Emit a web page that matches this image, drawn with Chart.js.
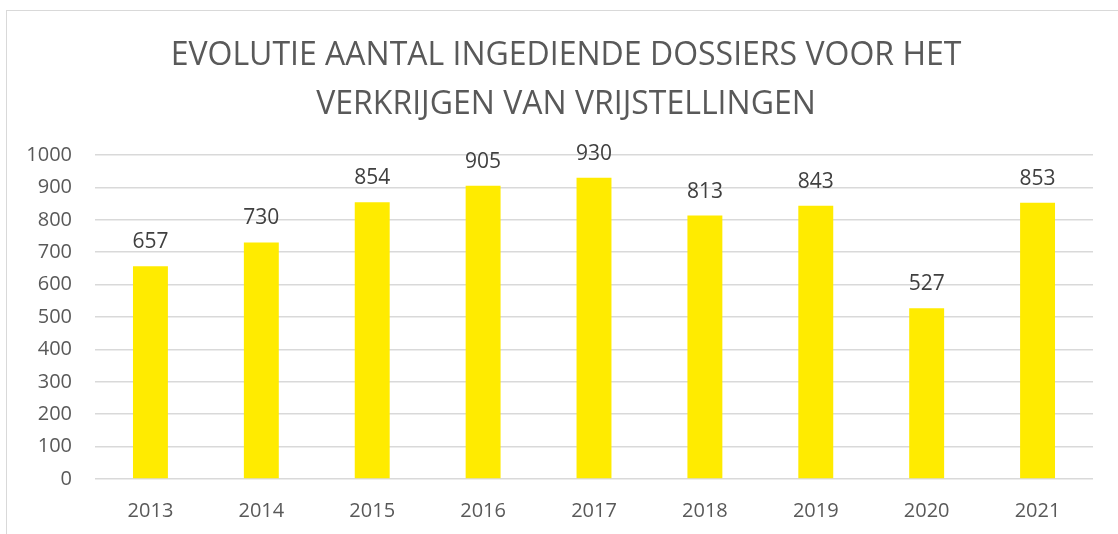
<!DOCTYPE html>
<html>
<head>
<meta charset="utf-8">
<script src="https://cdn.jsdelivr.net/npm/chart.js@4.4.1/dist/chart.umd.min.js"></script>
<style>
    html, body { margin: 0; padding: 0; background: #ffffff; overflow: hidden; }
    #frame {
        position: absolute;
        left: 6px;
        top: 10px;
        width: 1118px;
        height: 540px;
        border: 1px solid #d9d9d9;
    }
</style>
</head>
<body>
<div id="frame"><canvas id="dossierChart" width="1118" height="540"></canvas></div>
<script>
const titleLines = ['EVOLUTIE AANTAL INGEDIENDE DOSSIERS VOOR HET', 'VERKRIJGEN VAN VRIJSTELLINGEN'];
const years = ['2013', '2014', '2015', '2016', '2017', '2018', '2019', '2020', '2021'];
const dossiers = [657, 730, 854, 905, 930, 813, 843, 527, 853];
const yTicks = [0, 100, 200, 300, 400, 500, 600, 700, 800, 900, 1000];

const textGrey = '#595959';

const titlePlugin = {
    id: 'twoLineTitle',
    afterDraw(chart) {
        const ctx = chart.ctx;
        ctx.save();
        ctx.font = '32px "Open Sans"';
        ctx.fillStyle = textGrey;
        ctx.textAlign = 'center';
        ctx.textBaseline = 'alphabetic';
        const centerX = chart.width / 2;
        ctx.fillText(titleLines[0], centerX, 54);
        ctx.fillText(titleLines[1], centerX, 103);
        ctx.restore();
    }
};

const valueLabelPlugin = {
    id: 'valueLabels',
    afterDatasetsDraw(chart) {
        const ctx = chart.ctx;
        const meta = chart.getDatasetMeta(0);
        ctx.save();
        ctx.font = '21px "Open Sans"';
        ctx.fillStyle = '#404040';
        ctx.textAlign = 'center';
        ctx.textBaseline = 'alphabetic';
        meta.data.forEach((bar, i) => {
            ctx.fillText(String(dossiers[i]), bar.x, bar.y - 18);
        });
        ctx.restore();
    }
};

new Chart(document.getElementById('dossierChart'), {
    type: 'bar',
    data: {
        labels: years,
        datasets: [{
            data: dossiers,
            backgroundColor: '#ffeb00',
            categoryPercentage: 1,
            barPercentage: 0.315
        }]
    },
    options: {
        responsive: false,
        animation: false,
        layout: {
            padding: { top: 144, right: 32, left: 0, bottom: 0 }
        },
        plugins: {
            legend: { display: false },
            title: { display: false },
            tooltip: { enabled: false }
        },
        scales: {
            x: {
                grid: { display: false },
                border: { display: false },
                ticks: {
                    color: textGrey,
                    font: { family: 'Open Sans', size: 20 },
                    padding: 12,
                    maxRotation: 0
                },
                afterFit(scale) {
                    scale.height = 72;
                }
            },
            y: {
                min: 0,
                max: 1000,
                afterBuildTicks(scale) {
                    scale.ticks = yTicks.map(v => ({ value: v }));
                },
                grid: {
                    color: '#d9d9d9',
                    lineWidth: 1.5,
                    drawTicks: false
                },
                border: { display: false },
                ticks: {
                    color: textGrey,
                    font: { family: 'Open Sans', size: 20 },
                    padding: 23,
                    callback: value => String(value)
                },
                afterFit(scale) {
                    scale.width = 88;
                }
            }
        }
    },
    plugins: [titlePlugin, valueLabelPlugin]
});
</script>
</body>
</html>
